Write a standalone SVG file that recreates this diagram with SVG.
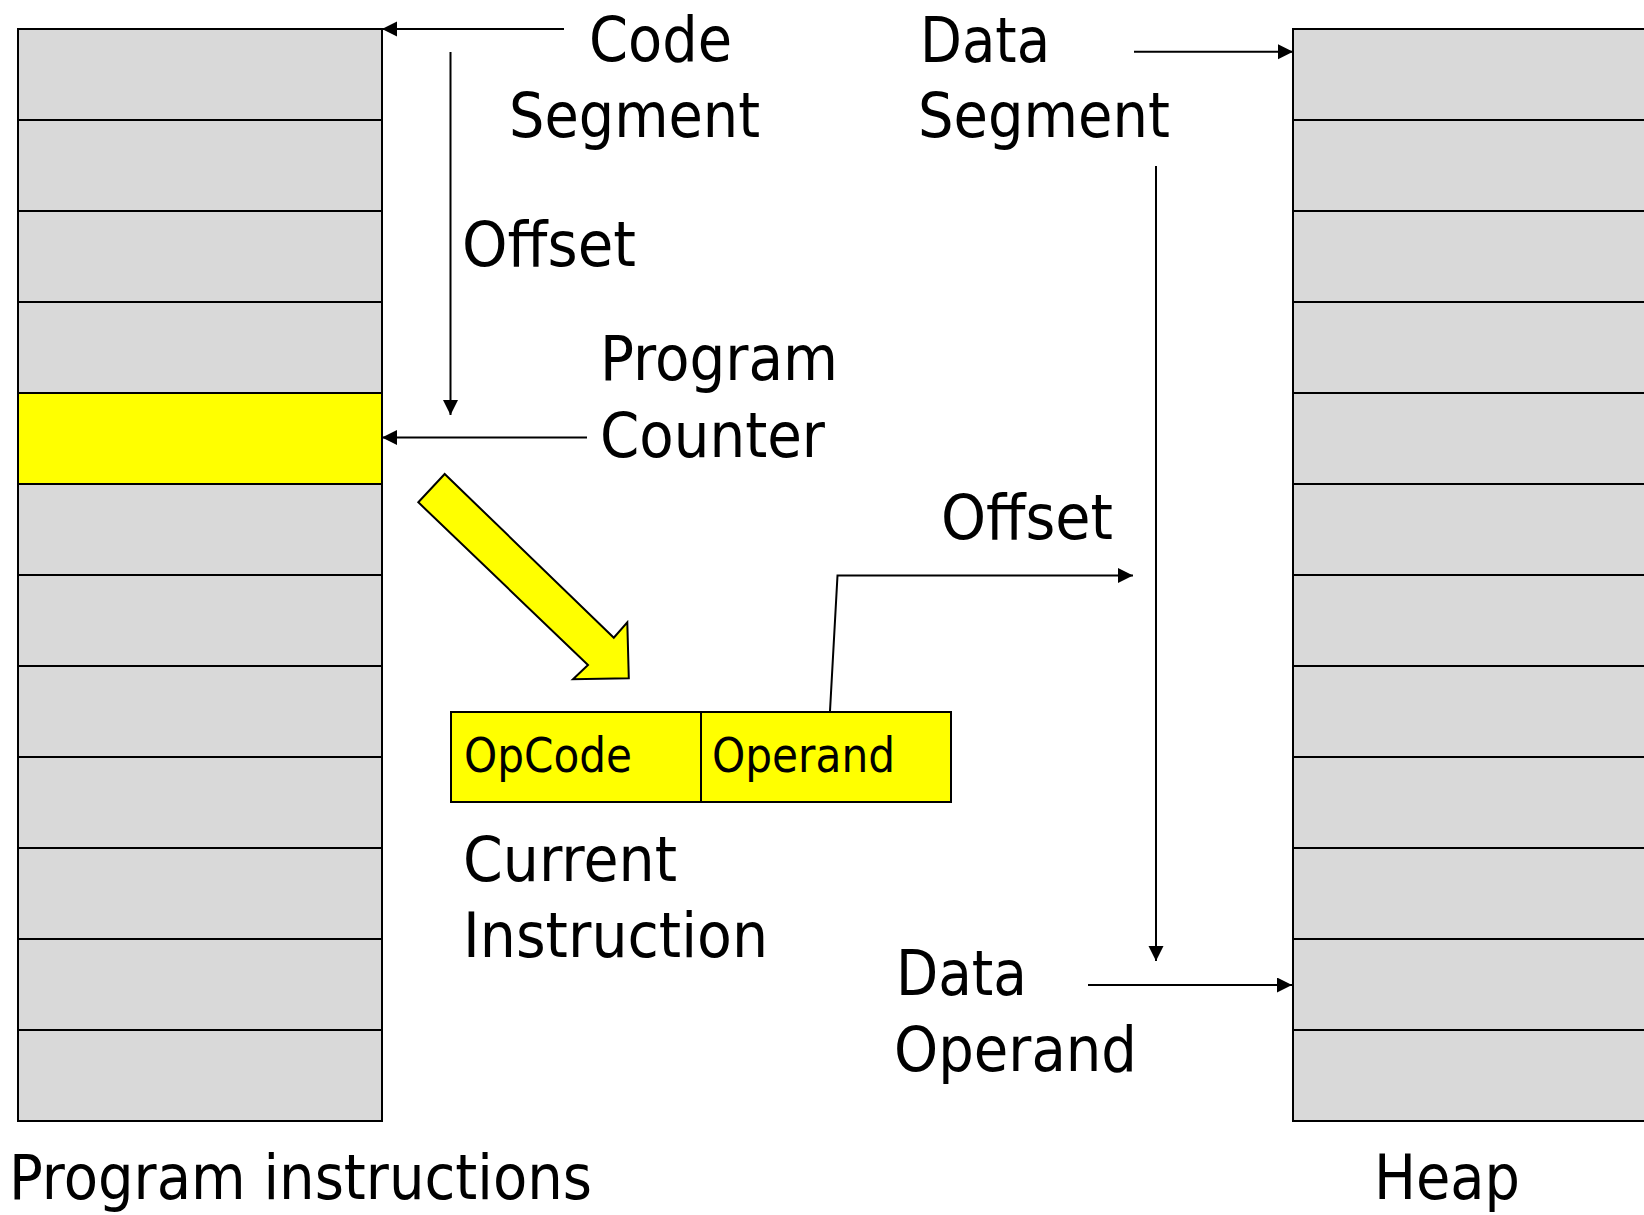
<svg xmlns="http://www.w3.org/2000/svg" width="1644" height="1215" viewBox="0 0 1644 1215">
<style>
.cell{fill:#d9d9d9;stroke:#000;stroke-width:2}
.hl{fill:#ffff00;stroke:#000;stroke-width:2}
.conn{fill:none;stroke:#000;stroke-width:2}
.t{font-family:"DejaVu Sans","Liberation Sans",sans-serif;font-size:63px;fill:#000}
.s{font-family:"DejaVu Sans","Liberation Sans",sans-serif;font-size:48px;fill:#000}
</style>
<defs>
<marker id="ah" markerUnits="userSpaceOnUse" markerWidth="16" markerHeight="16" refX="15" refY="7.5" orient="auto">
<path d="M0,0 L15,7.5 L0,15 z" fill="#000"/>
</marker>
</defs>
<rect width="1644" height="1215" fill="#fff"/>
<g id="program-instructions">
<rect class="cell" x="18" y="29" width="364" height="91"/>
<rect class="cell" x="18" y="120" width="364" height="91"/>
<rect class="cell" x="18" y="211" width="364" height="91"/>
<rect class="cell" x="18" y="302" width="364" height="91"/>
<rect class="hl" x="18" y="393" width="364" height="91"/>
<rect class="cell" x="18" y="484" width="364" height="91"/>
<rect class="cell" x="18" y="575" width="364" height="91"/>
<rect class="cell" x="18" y="666" width="364" height="91"/>
<rect class="cell" x="18" y="757" width="364" height="91"/>
<rect class="cell" x="18" y="848" width="364" height="91"/>
<rect class="cell" x="18" y="939" width="364" height="91"/>
<rect class="cell" x="18" y="1030" width="364" height="91"/>
<text class="t" x="9" y="1199" textLength="583" lengthAdjust="spacingAndGlyphs">Program instructions</text>
</g>
<g id="heap">
<rect class="cell" x="1293" y="29" width="400" height="91"/>
<rect class="cell" x="1293" y="120" width="400" height="91"/>
<rect class="cell" x="1293" y="211" width="400" height="91"/>
<rect class="cell" x="1293" y="302" width="400" height="91"/>
<rect class="cell" x="1293" y="393" width="400" height="91"/>
<rect class="cell" x="1293" y="484" width="400" height="91"/>
<rect class="cell" x="1293" y="575" width="400" height="91"/>
<rect class="cell" x="1293" y="666" width="400" height="91"/>
<rect class="cell" x="1293" y="757" width="400" height="91"/>
<rect class="cell" x="1293" y="848" width="400" height="91"/>
<rect class="cell" x="1293" y="939" width="400" height="91"/>
<rect class="cell" x="1293" y="1030" width="400" height="91"/>
<text class="t" x="1374" y="1199" textLength="146" lengthAdjust="spacingAndGlyphs">Heap</text>
</g>
<g id="code-segment">
<text class="t" x="589" y="61" textLength="143" lengthAdjust="spacingAndGlyphs">Code</text>
<text class="t" x="509" y="137" textLength="251" lengthAdjust="spacingAndGlyphs">Segment</text>
</g>
<g id="code-offset">
<text class="t" x="462" y="266" textLength="174" lengthAdjust="spacingAndGlyphs">Offset</text>
</g>
<g id="program-counter">
<text class="t" x="600" y="380" textLength="238" lengthAdjust="spacingAndGlyphs">Program</text>
<text class="t" x="600" y="457" textLength="225" lengthAdjust="spacingAndGlyphs">Counter</text>
</g>
<g id="data-segment">
<text class="t" x="920" y="62" textLength="130" lengthAdjust="spacingAndGlyphs">Data</text>
<text class="t" x="918" y="137" textLength="252" lengthAdjust="spacingAndGlyphs">Segment</text>
</g>
<g id="data-offset">
<text class="t" x="941" y="539" textLength="172" lengthAdjust="spacingAndGlyphs">Offset</text>
</g>
<g id="fetch-arrow">
<polygon points="444.7,474 613.8,637.7 627.3,622.3 628.8,678.3 573,679.3 588,665 418.3,502.3" fill="#ffff00" stroke="#000" stroke-width="2" stroke-linejoin="miter"/>
</g>
<g id="current-instruction">
<rect class="hl" x="451" y="712" width="250" height="90"/>
<rect class="hl" x="701" y="712" width="250" height="90"/>
<text class="s" x="464" y="772" textLength="168" lengthAdjust="spacingAndGlyphs">OpCode</text>
<text class="s" x="712" y="772" textLength="183" lengthAdjust="spacingAndGlyphs">Operand</text>
<text class="t" x="463" y="881" textLength="214" lengthAdjust="spacingAndGlyphs">Current</text>
<text class="t" x="463" y="957" textLength="305" lengthAdjust="spacingAndGlyphs">Instruction</text>
</g>
<g id="data-operand">
<text class="t" x="896" y="995" textLength="131" lengthAdjust="spacingAndGlyphs">Data</text>
<text class="t" x="894" y="1071" textLength="243" lengthAdjust="spacingAndGlyphs">Operand</text>
</g>
<g id="connectors">
<line class="conn" x1="564" y1="29" x2="382" y2="29" marker-end="url(#ah)"/>
<line class="conn" x1="450.5" y1="52" x2="450.5" y2="415" marker-end="url(#ah)"/>
<line class="conn" x1="587" y1="437.5" x2="382" y2="437.5" marker-end="url(#ah)"/>
<line class="conn" x1="1134" y1="51.7" x2="1293" y2="51.7" marker-end="url(#ah)"/>
<line class="conn" x1="1156" y1="166" x2="1156" y2="961" marker-end="url(#ah)"/>
<line class="conn" x1="1088" y1="985" x2="1292" y2="985" marker-end="url(#ah)"/>
<polyline class="conn" points="830,711 837.5,575.5 1133,575.5" marker-end="url(#ah)"/>
</g>
</svg>
